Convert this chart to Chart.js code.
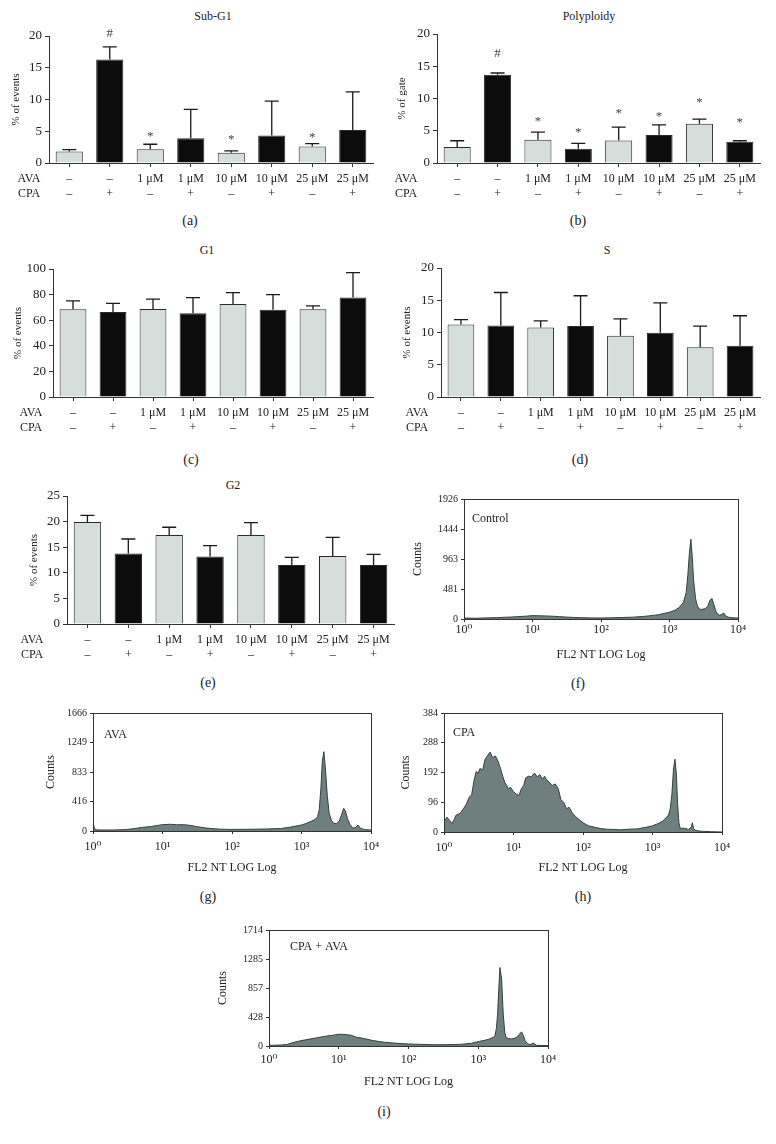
<!DOCTYPE html>
<html>
<head>
<meta charset="utf-8">
<title>Cell cycle distribution and DNA histograms</title>
<script src="https://cdn.jsdelivr.net/npm/chart.js"></script>
<style>
  body { margin:0; background:#fff; width:776px; height:1144px; position:relative; overflow:hidden;
         font-family:"Liberation Serif", "DejaVu Serif", serif; color:#222; }
  canvas { position:absolute; }
  .lbl { position:absolute; transform:translate(-50%,-50%); white-space:nowrap; font-size:12px; }
  .pl { font-size:14px; }
</style>
</head>
<body>

<div class="lbl" style="left:213px;top:16px">Sub-G1</div>
<div class="lbl" style="left:589px;top:16px">Polyploidy</div>
<div class="lbl" style="left:207px;top:250px">G1</div>
<div class="lbl" style="left:607px;top:250px">S</div>
<div class="lbl" style="left:233px;top:485px">G2</div>

<div class="lbl pl" style="left:190px;top:221px">(a)</div>
<div class="lbl pl" style="left:578px;top:221px">(b)</div>
<div class="lbl pl" style="left:191px;top:460px">(c)</div>
<div class="lbl pl" style="left:580px;top:460px">(d)</div>
<div class="lbl pl" style="left:208px;top:683px">(e)</div>
<div class="lbl pl" style="left:578px;top:684px">(f)</div>
<div class="lbl pl" style="left:208px;top:897px">(g)</div>
<div class="lbl pl" style="left:583px;top:897px">(h)</div>
<div class="lbl pl" style="left:384px;top:1112px">(i)</div>

<canvas id="subg1" width="390" height="190" style="left:0;top:20px"></canvas>
<canvas id="poly" width="386" height="190" style="left:390px;top:20px"></canvas>
<canvas id="g1" width="390" height="190" style="left:0;top:250px"></canvas>
<canvas id="sph" width="386" height="190" style="left:390px;top:250px"></canvas>
<canvas id="g2" width="400" height="190" style="left:0;top:480px"></canvas>
<canvas id="hctrl" width="386" height="190" style="left:390px;top:480px"></canvas>
<canvas id="hava" width="390" height="190" style="left:0;top:695px"></canvas>
<canvas id="hcpa" width="386" height="190" style="left:390px;top:695px"></canvas>
<canvas id="hboth" width="390" height="190" style="left:190px;top:912px"></canvas>

<script>
// treatment groups
var groups = ['Control', 'CPA', 'AVA 1', 'CPA+AVA 1', 'AVA 10', 'CPA+AVA 10', 'AVA 25', 'CPA+AVA 25'];
var avaRow = ['–', '–', '1 μM', '1 μM', '10 μM', '10 μM', '25 μM', '25 μM'];
var cpaRow = ['–', '+', '–', '+', '–', '+', '–', '+'];

// bar panels: mean, SD, significance marks
var subG1Mean = [1.8, 16.3, 2.15, 3.9, 1.6, 4.35, 2.6, 5.2];
var subG1Sd   = [0.3, 2.0, 0.8, 4.55, 0.3, 5.4, 0.45, 6.0];
var subG1Mark = ['', '#', '*', '', '*', '', '*', ''];
var subG1MarkY = [null, 20.4, 4.7, null, 4.1, null, 4.4, null];

var polyMean = [2.5, 13.7, 3.6, 2.2, 3.5, 4.35, 6.1, 3.3];
var polySd   = [0.95, 0.25, 1.2, 0.85, 2.05, 1.55, 0.7, 0.15];
var polyMark = ['', '#', '*', '*', '*', '*', '*', '*'];
var polyMarkY = [null, 17.0, 6.9, 5.2, 8.2, 7.7, 9.8, 6.7];

var g1Mean = [68.6, 66.5, 68.8, 65.5, 72.7, 68.1, 68.6, 77.7];
var g1Sd   = [6.5, 6.7, 7.6, 12.2, 8.9, 11.9, 2.6, 19.4];

var sMean = [11.24, 11.08, 10.77, 11.0, 9.48, 9.95, 7.73, 7.94];
var sSd   = [0.76, 5.12, 1.03, 4.7, 2.62, 4.65, 3.27, 4.66];

var g2Mean = [19.94, 13.77, 17.4, 13.2, 17.4, 11.5, 13.3, 11.5];
var g2Sd   = [1.26, 2.83, 1.5, 2.1, 2.4, 1.5, 3.6, 2.1];

// histograms (FL2 channel value, counts)
var decades = [1, 10, 100, 1000, 10000];
var decadeLabels = ['10⁰', '10¹', '10²', '10³', '10⁴'];

var ctrlBins = [1, 1.5, 2, 3, 4, 5, 6, 8, 10, 12, 15, 20, 25, 30, 40, 50, 70, 100, 150, 200, 300, 400, 500, 700,
  1000, 1200, 1400, 1600, 1750, 1850, 1950, 2050, 2150, 2250, 2400, 2550, 2700, 2900, 3100, 3300, 3600, 3900,
  4150, 4400, 4700, 5000, 5400, 5800, 6200, 6600, 7200, 8000, 9000, 10000];
var ctrlCounts = [16, 12, 18, 22, 28, 32, 38, 45, 55, 52, 50, 44, 38, 32, 25, 22, 18, 16, 20, 24, 30, 40, 50, 70,
  110, 140, 190, 270, 420, 700, 1050, 1280, 1000, 620, 330, 210, 165, 150, 160, 165, 200, 300,
  330, 250, 140, 80, 60, 75, 95, 50, 30, 22, 18, 16];
var ctrlTicks = [0, 481, 963, 1444, 1926];

var avaBins = [1, 1.05, 1.15, 1.5, 2, 3, 4, 5, 7, 10, 13, 16, 20, 25, 30, 40, 50, 70, 100, 150, 200, 300, 500, 700,
  1000, 1200, 1400, 1550, 1700, 1800, 1900, 2000, 2100, 2200, 2350, 2500, 2700, 2900, 3200, 3500, 3800, 4050,
  4300, 4600, 5000, 5500, 6000, 6500, 7000, 8000, 10000];
var avaCounts = [130, 30, 15, 14, 15, 20, 35, 50, 65, 90, 95, 88, 90, 80, 65, 45, 35, 25, 22, 24, 25, 28, 35, 55,
  85, 110, 140, 160, 200, 300, 600, 1000, 1120, 900, 500, 250, 150, 110, 105, 140, 240, 320,
  280, 170, 90, 40, 50, 85, 40, 20, 14];
var avaTicks = [0, 416, 833, 1249, 1666];

var cpaBins = [1, 1.05, 1.1, 1.2, 1.3, 1.4, 1.5, 1.7, 1.9, 2.1, 2.3, 2.5, 2.7, 2.9, 3.1, 3.3, 3.6, 3.9, 4.2, 4.6,
  5.0, 5.5, 6.0, 6.5, 7.0, 7.5, 8.0, 8.5, 9.0, 10, 11, 12, 13, 14, 15, 16.5, 18, 20, 22, 24, 26, 28, 30, 33, 36,
  40, 44, 48, 53, 58, 63, 70, 78, 88, 100, 115, 130, 150, 180, 220, 280, 350, 450, 600, 800, 1000, 1200, 1400,
  1550, 1700, 1800, 1900, 2000, 2100, 2200, 2300, 2400, 2500, 2900, 3300, 3600, 3750, 3900, 4200, 4700, 5500,
  7000, 10000];
var cpaCounts = [45, 40, 48, 38, 27, 40, 55, 60, 75, 90, 112, 120, 165, 195, 190, 205, 200, 235, 245, 258,
  240, 245, 228, 205, 180, 160, 150, 138, 145, 130, 122, 118, 140, 150, 175, 180, 178, 190, 178, 185, 170, 180, 168, 160, 150,
  155, 140, 105, 95, 75, 80, 62, 50, 40, 30, 22, 18, 15, 11, 9, 8, 7, 9, 10, 15, 20, 27, 35,
  45, 55, 75, 120, 200, 235, 190, 90, 30, 12, 12, 8, 15, 30, 10, 5, 3, 2,
  1, 0];
var cpaTicks = [0, 96, 192, 288, 384];

var bothBins = [1, 1.05, 1.2, 1.5, 1.8, 2.2, 2.75, 3.5, 4.77, 6, 8.3, 10.3, 12.9, 15, 17.9, 22, 31, 45, 60, 80,
  100, 150, 226, 350, 545, 800, 1000, 1250, 1468, 1650, 1738, 1820, 1894, 1970, 2046, 2163, 2250, 2287, 2400,
  2496, 2700, 3009, 3300, 3548, 3850, 4188, 4450, 4677, 5100, 5521, 6166, 6873, 8000, 10000];
var bothCounts = [35, 10, 12, 15, 22, 50, 75, 95, 120, 140, 160, 175, 168, 160, 130, 115, 80, 55, 45, 35,
  30, 24, 19, 20, 24, 40, 65, 85, 105, 130, 155, 260, 470, 850, 1160, 990, 600, 460, 200,
  128, 110, 105, 115, 128, 170, 209, 150, 81, 35, 19, 43, 10, 8, 6];
var bothTicks = [0, 428, 857, 1285, 1714];

var FONT = '"Liberation Serif", "DejaVu Serif", serif';
var INK = '#222';
var LIGHT = '#d6dedc';
var DARK = '#0c0c0c';

// upper error whiskers + significance marks
var errBars = {
  id: 'errBars',
  afterDatasetsDraw: function(chart, args, o) {
    var ctx = chart.ctx, y = chart.scales.y;
    var mean = chart.data.datasets[0].data;
    var meta = chart.getDatasetMeta(0);
    ctx.save();
    ctx.strokeStyle = '#1a1a1a';
    ctx.lineWidth = 1.3;
    ctx.fillStyle = '#444';
    ctx.font = '13px ' + FONT;
    ctx.textAlign = 'center';
    ctx.textBaseline = 'middle';
    meta.data.forEach(function(bar, i) {
      var top = y.getPixelForValue(mean[i] + o.sd[i]);
      ctx.beginPath();
      ctx.moveTo(bar.x, bar.y);
      ctx.lineTo(bar.x, top);
      ctx.moveTo(bar.x - 7, top);
      ctx.lineTo(bar.x + 7, top);
      ctx.stroke();
      if (o.marks && o.marks[i]) {
        var off = o.marks[i] == '*' ? 3 : 0;
        ctx.fillText(o.marks[i], bar.x, y.getPixelForValue(o.markY[i]) + off);
      }
    });
    ctx.restore();
  }
};

// AVA / CPA rows under the x axis
var rows = {
  id: 'rows',
  afterDraw: function(chart, args, o) {
    var ctx = chart.ctx, x = chart.scales.x, b = chart.chartArea.bottom;
    ctx.save();
    ctx.font = '12px ' + FONT;
    ctx.fillStyle = INK;
    ctx.textAlign = 'center';
    ctx.textBaseline = 'middle';
    ctx.fillText('AVA', o.x, b + 15.5);
    ctx.fillText('CPA', o.x, b + 31);
    avaRow.forEach(function(t, i) { ctx.fillText(t, x.getPixelForValue(i), b + 15.5); });
    cpaRow.forEach(function(t, i) { ctx.fillText(t, x.getPixelForValue(i), b + 31); });
    ctx.restore();
  }
};

function barPanel(id, mean, sd, marks, markY, yMax, yStep, yTitle, p) {
  new Chart(document.getElementById(id), {
    type: 'bar',
    data: {
      labels: groups,
      datasets: [{
        data: mean,
        backgroundColor: cpaRow.map(function(c) { return c == '+' ? DARK : LIGHT; }),
        borderColor: '#2a2a2a',
        borderWidth: 1,
        barPercentage: 0.67,
        categoryPercentage: 1
      }]
    },
    options: {
      responsive: false,
      animation: false,
      layout: { padding: { top: p.top, right: p.right, left: 0, bottom: 0 } },
      plugins: {
        legend: { display: false },
        tooltip: { enabled: false },
        errBars: { sd: sd, marks: marks, markY: markY },
        rows: { x: p.rowX }
      },
      scales: {
        x: {
          grid: { display: true, offset: false, drawOnChartArea: false, color: '#333', tickLength: 4 },
          border: { color: '#333', width: 1 },
          ticks: { display: false },
          afterFit: function(s) { s.height = p.xh; }
        },
        y: {
          min: 0, max: yMax,
          ticks: { stepSize: yStep, font: { family: FONT, size: 13 }, color: INK, padding: 3 },
          grid: { drawOnChartArea: false, color: '#333', tickLength: 4 },
          border: { color: '#333', width: 1 },
          title: { display: true, text: yTitle, color: INK, font: { family: FONT, size: 11 }, padding: { top: p.tp } },
          afterFit: function(s) { s.width = p.yw; }
        }
      }
    },
    plugins: [errBars, rows]
  });
}

barPanel('subg1', subG1Mean, subG1Sd, subG1Mark, subG1MarkY, 20, 5, '% of events',
  { top: 16, right: 17, xh: 47, yw: 49, tp: 10, rowX: 29 });
barPanel('poly', polyMean, polySd, polyMark, polyMarkY, 20, 5, '% of gate',
  { top: 14, right: 16, xh: 47, yw: 47, tp: 6, rowX: 16 });
barPanel('g1', g1Mean, g1Sd, null, null, 100, 20, '% of events',
  { top: 19, right: 17, xh: 43, yw: 53, tp: 12, rowX: 31 });
barPanel('sph', sMean, sSd, null, null, 20, 5, '% of events',
  { top: 18, right: 16, xh: 43, yw: 51, tp: 11, rowX: 27 });
barPanel('g2', g2Mean, g2Sd, null, null, 25, 5, '% of events',
  { top: 16, right: 6, xh: 46, yw: 67, tp: 28, rowX: 32 });

// frame around histogram plot + sample name
var frame = {
  id: 'frame',
  afterDraw: function(chart, args, o) {
    var ctx = chart.ctx, a = chart.chartArea;
    ctx.save();
    ctx.strokeStyle = '#333';
    ctx.lineWidth = 1;
    ctx.strokeRect(a.left + 0.5, a.top + 0.5, a.right - a.left, a.bottom - a.top);
    ctx.font = '12px ' + FONT;
    ctx.fillStyle = INK;
    ctx.textBaseline = 'middle';
    ctx.fillText(o.name, a.left + o.dx, a.top + o.dy);
    ctx.restore();
  }
};

function histPanel(id, bins, counts, yTicks, name, p) {
  new Chart(document.getElementById(id), {
    type: 'line',
    data: {
      datasets: [{
        data: bins.map(function(b, i) { return { x: b, y: counts[i] }; }),
        borderColor: '#34403f',
        borderWidth: 1,
        backgroundColor: '#6f7f7d',
        fill: 'origin',
        pointRadius: 0,
        tension: 0
      }]
    },
    options: {
      responsive: false,
      animation: false,
      layout: { padding: { top: p.top, right: p.right, left: 0, bottom: 0 } },
      plugins: {
        legend: { display: false },
        tooltip: { enabled: false },
        frame: { name: name, dx: p.nx, dy: p.ny }
      },
      scales: {
        x: {
          type: 'logarithmic',
          min: 1, max: 10000,
          afterBuildTicks: function(s) { s.ticks = decades.map(function(v) { return { value: v }; }); },
          ticks: {
            autoSkip: false, maxRotation: 0, minRotation: 0, padding: p.xpad,
            color: INK, font: { family: FONT, size: 12 },
            callback: function(v, i) { return decadeLabels[i]; }
          },
          grid: { drawOnChartArea: false, color: '#333', tickLength: 3 },
          border: { color: '#333' },
          title: { display: true, text: 'FL2 NT LOG Log', color: INK, font: { family: FONT, size: 12 }, padding: { bottom: p.tb } },
          afterFit: function(s) { s.height = p.xh; }
        },
        y: {
          min: 0, max: yTicks[yTicks.length - 1],
          afterBuildTicks: function(s) { s.ticks = yTicks.map(function(v) { return { value: v }; }); },
          ticks: { color: INK, font: { family: FONT, size: 10 }, padding: 3,
                   callback: function(v) { return String(v); } },
          grid: { drawOnChartArea: false, color: '#333', tickLength: 3 },
          border: { color: '#333' },
          title: { display: true, text: 'Counts', color: INK, font: { family: FONT, size: 12 }, padding: { top: p.tp } },
          afterFit: function(s) { s.width = p.yw; }
        }
      }
    },
    plugins: [frame]
  });
}

histPanel('hctrl', ctrlBins, ctrlCounts, ctrlTicks, 'Control',
  { top: 19, right: 38, xh: 51, yw: 74, tp: 21, tb: 8, xpad: 1, nx: 8, ny: 20 });
histPanel('hava', avaBins, avaCounts, avaTicks, 'AVA',
  { top: 18, right: 19, xh: 54, yw: 93, tp: 44, tb: 10, xpad: 6, nx: 11, ny: 22 });
histPanel('hcpa', cpaBins, cpaCounts, cpaTicks, 'CPA',
  { top: 18, right: 54, xh: 53, yw: 54, tp: 9, tb: 10, xpad: 6, nx: 9, ny: 20 });
histPanel('hboth', bothBins, bothCounts, bothTicks, 'CPA + AVA',
  { top: 18, right: 32, xh: 56, yw: 79, tp: 26, tb: 13, xpad: 4, nx: 21, ny: 17 });
</script>
</body>
</html>
